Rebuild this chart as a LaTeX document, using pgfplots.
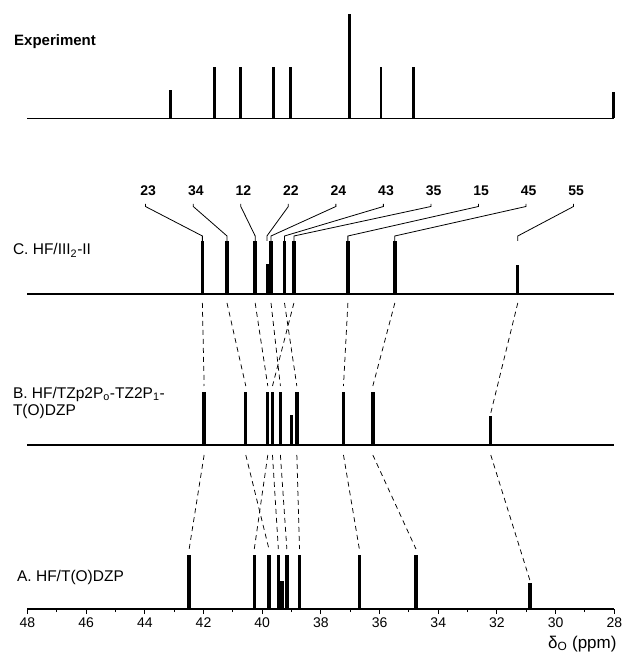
\documentclass[border=0pt]{standalone}
\usepackage{fontspec}
\setmainfont{Liberation Sans}
\usepackage{pgfplots}
\usepackage{pgfplotstable}
\pgfplotsset{compat=1.18}

% x = shift (ppm), b = baseline of the trace, h = stick height
\pgfplotstableread{
x b h
43.14 490.7 28.3
41.62 490.7 51.7
40.73 490.7 51.7
39.63 490.7 51.7
39.03 490.7 51.7
37.03 490.7 104.0
35.95 490.7 51.3
34.85 490.7 51.3
28.03 490.7 26.7
}\expdata

\pgfplotstableread{
x b h
42.04 315 53
41.20 315 53
40.24 315 53
39.83 315 30
39.70 315 53
39.24 315 53
38.92 315 53
37.08 315 53
35.48 315 53
31.29 315 28.5
}\cdata

\pgfplotstableread{
x b h
41.98 164 52.5
40.56 164 52.5
39.81 164 52.5
39.65 164 52.5
39.38 164 52.5
39.01 164 30
38.82 164 52.5
37.23 164 52.5
36.23 164 52.5
32.21 164 28.5
}\bdata

\pgfplotstableread{
x b h
42.49 0 54
40.27 0 54
39.77 0 54
39.45 0 54
39.32 0 27.5
39.16 0 54
38.73 0 54
36.69 0 54
34.76 0 54
30.88 0 26
}\adata

\pgfplotsset{
  cdash/.style={black, line width=0.75pt, dash pattern=on 5pt off 4pt},
  lead/.style={black, line width=0.8pt},
  stick/.style={draw=none, mark=none, mark size=0pt,
    error bars/.cd, y dir=plus, y explicit, error mark=none,
    error bar style={draw=black, solid, line width=#1}},
}

\begin{document}
\begin{tikzpicture}
\path[use as bounding box] (-27.5pt,-43pt) rectangle (597.5pt,609pt);
\begin{axis}[
  at={(0pt,0pt)}, anchor=south west,
  scale only axis, width=586.8pt, height=595pt,
  xmin=28, xmax=48, ymin=0, ymax=595, x dir=reverse,
  axis x line=bottom, axis y line=none,
  axis line style={-, line width=1.1pt},
  x axis line style={-},
  xtick={28,30,...,48}, minor xtick={29,31,...,47},
  tick align=outside, major tick length=5pt, minor tick length=3pt,
  every tick/.style={black, line width=1pt},
  ytick=\empty,
  xticklabel style={font=\fontsize{14}{16}\selectfont},
  /pgf/number format/assume math mode=true,
  clip=false,
]
% baselines of the traces
\addplot[black, line width=1.1pt] coordinates {(48,490.7) (28,490.7)};
\addplot[black, line width=1.1pt] coordinates {(48,315) (28,315)};
\addplot[black, line width=1.1pt] coordinates {(48,164) (28,164)};

% sticks
\addplot[stick=2.9pt] table[x=x, y=b, y error=h] {\expdata};
\addplot[stick=3.4pt] table[x=x, y=b, y error=h] {\cdata};
\addplot[stick=3.4pt] table[x=x, y=b, y error=h] {\bdata};
\addplot[stick=3.4pt] table[x=x, y=b, y error=h] {\adata};

% C -> B correlations
\addplot[cdash] coordinates {(42.04,306) (41.98,223)};
\addplot[cdash] coordinates {(41.20,306) (40.56,223)};
\addplot[cdash] coordinates {(40.24,306) (39.81,223)};
\addplot[cdash] coordinates {(39.70,306) (39.38,223)};
\addplot[cdash] coordinates {(39.24,306) (38.82,223)};
\addplot[cdash] coordinates {(38.92,306) (39.65,223)};
\addplot[cdash] coordinates {(37.08,306) (37.23,223)};
\addplot[cdash] coordinates {(35.48,306) (36.23,223)};
\addplot[cdash] coordinates {(31.29,306) (32.21,196)};

% B -> A correlations
\addplot[cdash] coordinates {(41.98,154) (42.49,60)};
\addplot[cdash] coordinates {(40.56,154) (39.77,60)};
\addplot[cdash] coordinates {(39.81,154) (40.27,60)};
\addplot[cdash] coordinates {(39.65,154) (39.45,60)};
\addplot[cdash] coordinates {(39.38,154) (39.16,60)};
\addplot[cdash] coordinates {(38.82,154) (38.73,60)};
\addplot[cdash] coordinates {(37.23,154) (36.69,60)};
\addplot[cdash] coordinates {(36.23,154) (34.76,60)};
\addplot[cdash] coordinates {(32.21,154) (30.88,29)};

% leader lines to the assignment labels
\addplot[lead] coordinates {(43.98,405) (43.98,402.5) (42.04,373) (42.04,368)};
\addplot[lead] coordinates {(42.35,405) (42.35,402.5) (41.20,373) (41.20,368)};
\addplot[lead] coordinates {(40.73,405) (40.73,402.5) (40.24,373) (40.24,368)};
\addplot[lead] coordinates {(39.11,405) (39.11,402.5) (39.84,373) (39.84,368)};
\addplot[lead] coordinates {(37.49,405) (37.49,402.5) (39.70,373) (39.70,368)};
\addplot[lead] coordinates {(35.87,405) (35.87,402.5) (39.24,373) (39.24,368)};
\addplot[lead] coordinates {(34.25,405) (34.25,402.5) (38.92,373) (38.92,368)};
\addplot[lead] coordinates {(32.63,405) (32.63,402.5) (37.08,373) (37.08,368)};
\addplot[lead] coordinates {(31.01,405) (31.01,402.5) (35.48,373) (35.48,368)};
\addplot[lead] coordinates {(29.39,405) (29.39,402.5) (31.29,373) (31.29,368)};

% assignment labels
\begin{scope}[every node/.style={anchor=base, inner sep=0pt, font=\fontsize{14}{16}\selectfont\bfseries}]
\node at (axis cs:43.89,413) {23};
\node at (axis cs:42.26,413) {34};
\node at (axis cs:40.64,413) {12};
\node at (axis cs:39.02,413) {22};
\node at (axis cs:37.40,413) {24};
\node at (axis cs:35.78,413) {43};
\node at (axis cs:34.16,413) {35};
\node at (axis cs:32.54,413) {15};
\node at (axis cs:30.92,413) {45};
\node at (axis cs:29.30,413) {55};
\end{scope}

% trace labels
\begin{scope}[every node/.style={anchor=base west, inner sep=0pt, font=\fontsize{15.5}{18}\selectfont}]
\node[font=\fontsize{15}{18}\selectfont\bfseries] at (axis cs:48.46,563.5) {Experiment};
\node at (axis cs:48.50,354) {C. HF/III\textsubscript{2}-II};
\node at (axis cs:48.50,210.7) {B. HF/TZp2P\textsubscript{o}-TZ2P\textsubscript{1}-};
\node at (axis cs:48.50,193) {T(O)DZP};
\node at (axis cs:48.36,27.3) {A. HF/T(O)DZP};
\node[font=\fontsize{17}{20}\selectfont] at (axis cs:30.26,-39) {δ\textsubscript{O} (ppm)};
\end{scope}
\end{axis}
\end{tikzpicture}
\end{document}
